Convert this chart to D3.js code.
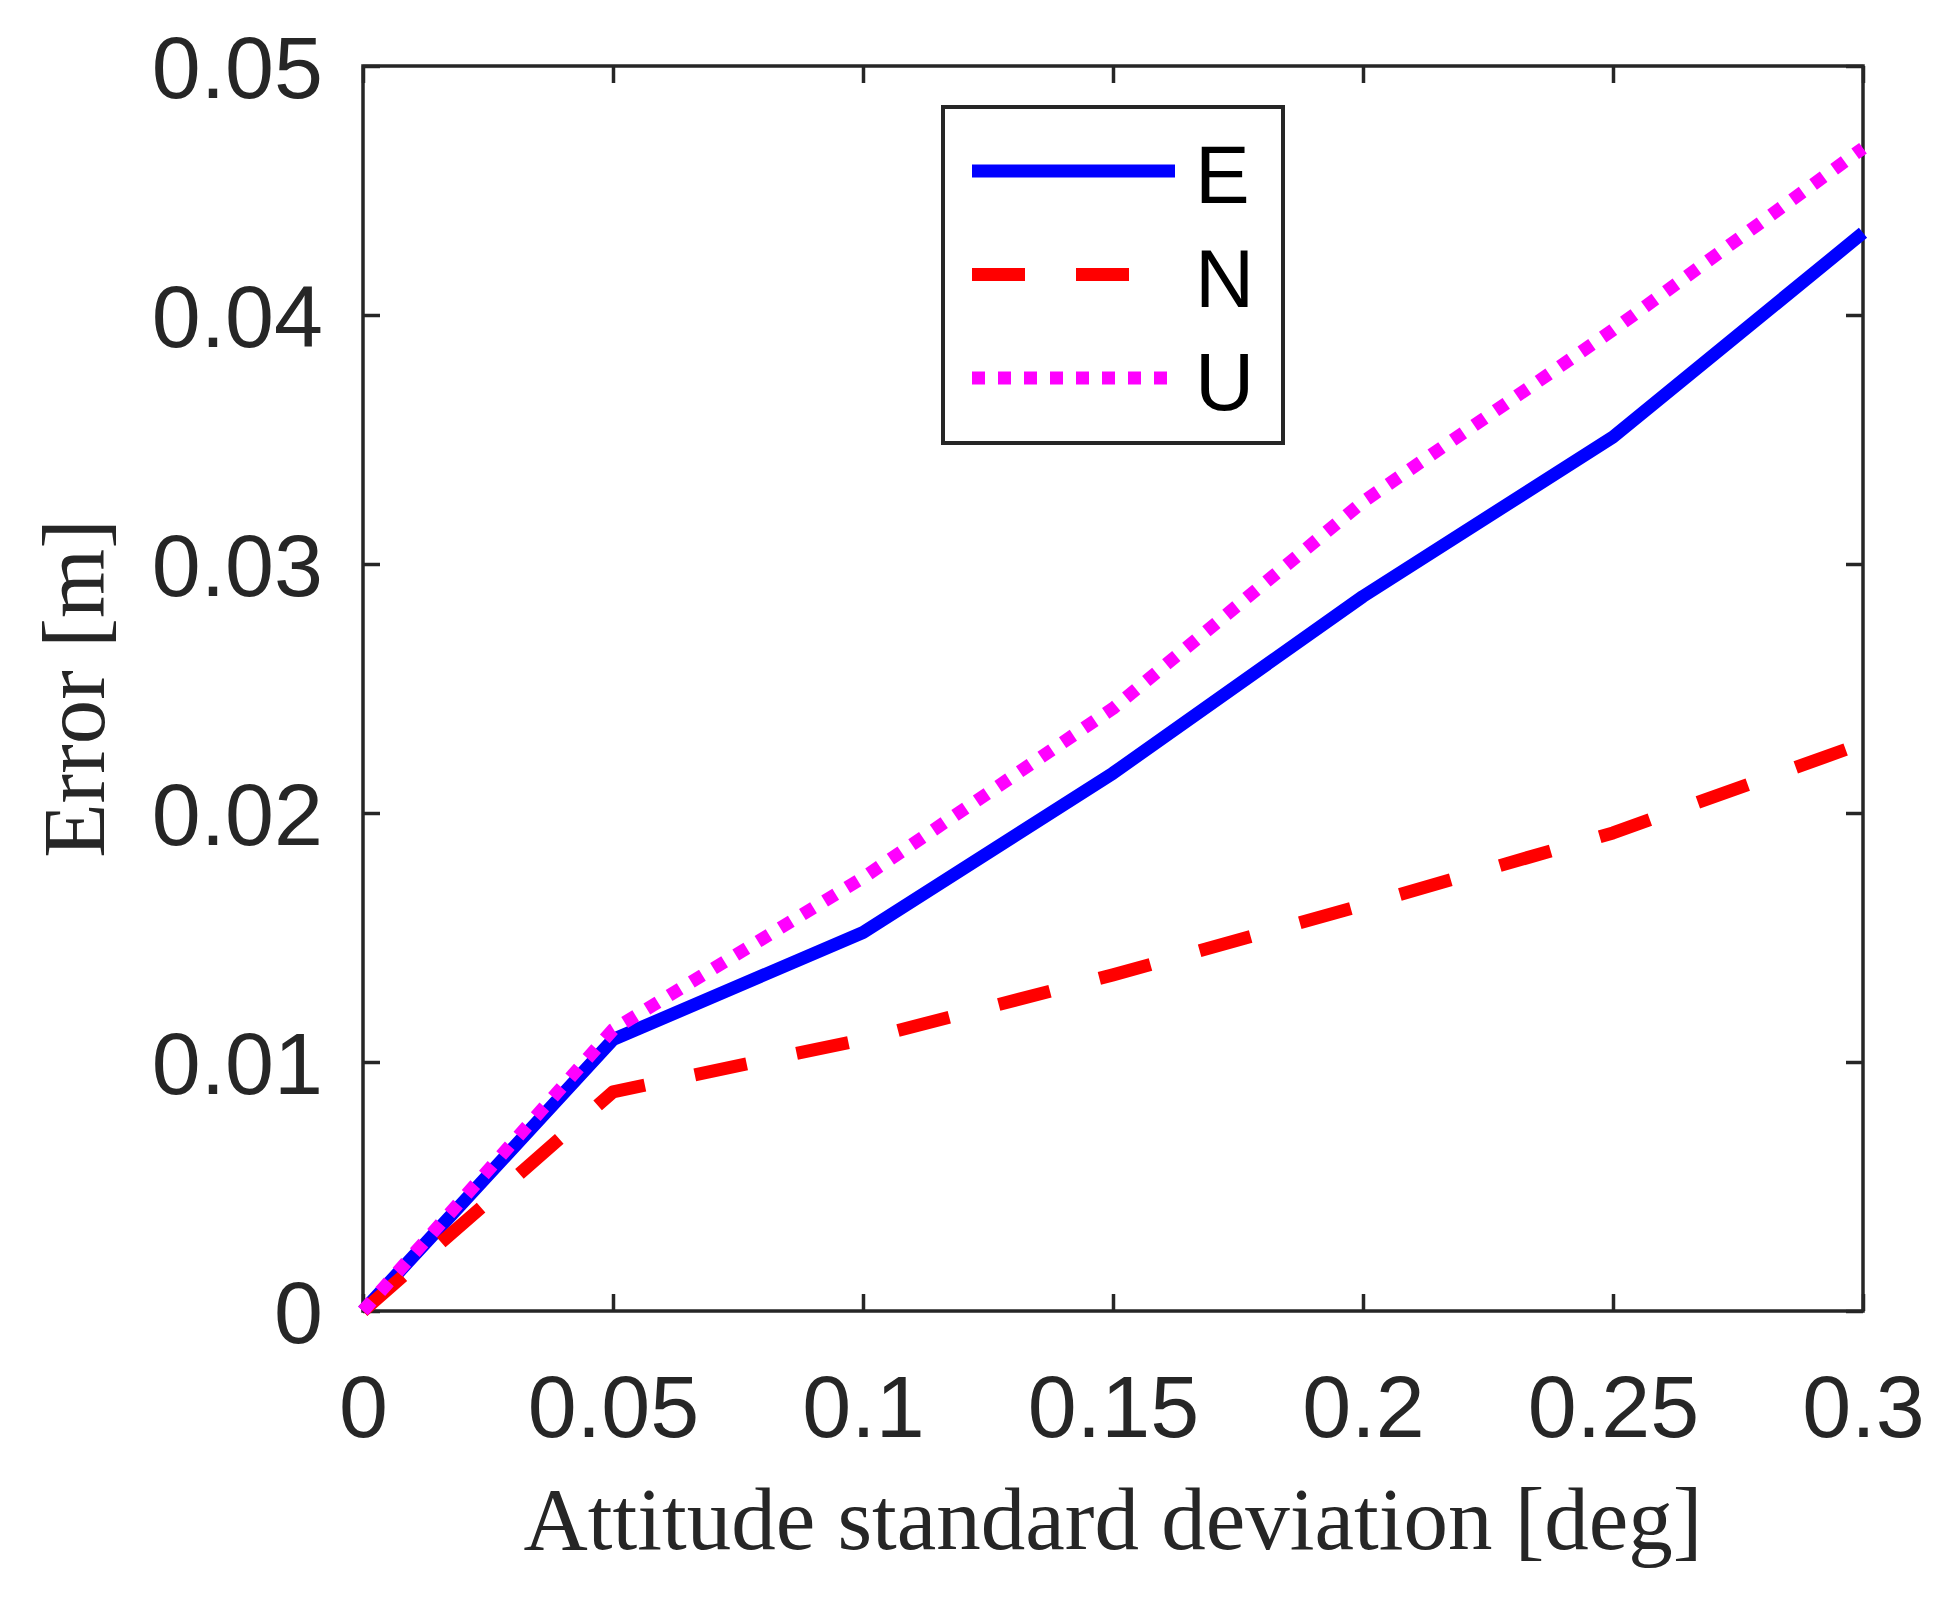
<!DOCTYPE html>
<html>
<head>
<meta charset="utf-8">
<script src="https://cdn.jsdelivr.net/npm/d3@7"></script>
<style>
  body { margin: 0; background: #fff; }
  svg { display: block; }
</style>
</head>
<body>
<div id="chart"></div>
<script>
// data
const attitudeStd = [0, 0.05, 0.1, 0.15, 0.2, 0.25, 0.3];
const errE = [0, 0.0109, 0.0152, 0.0216, 0.0287, 0.0351, 0.0433];
const errN = [0, 0.0088, 0.0109, 0.0135, 0.0163, 0.0192, 0.0228];
const errU = [0, 0.0113, 0.0174, 0.0242, 0.0325, 0.0394, 0.0467];
const xTicks = [0, 0.05, 0.1, 0.15, 0.2, 0.25, 0.3];
const yTicks = [0, 0.01, 0.02, 0.03, 0.04, 0.05];
const seriesNames = ["E", "N", "U"];

(function () {
  const width = 1949, height = 1609;
  // plot box
  const plotLeft = 363, plotRight = 1863, plotTop = 66, plotBottom = 1311;
  const axisColor = "#262626";
  const tickLen = 17;

  const series = [
    { name: seriesNames[0], values: errE, color: "#0000ff", dash: null },
    { name: seriesNames[1], values: errN, color: "#ff0000", dash: "53,51" },
    { name: seriesNames[2], values: errU, color: "#ff00ff", dash: "13,13" }
  ];

  const svg = d3.select("#chart").append("svg")
    .attr("width", width)
    .attr("height", height)
    .style("background", "#fff");

  const x = d3.scaleLinear().domain([0, 0.3]).range([plotLeft, plotRight]);
  const y = d3.scaleLinear().domain([0, 0.05]).range([plotBottom, plotTop]);

  // axes: MATLAB style inward ticks, mirrored on top / right
  const gx = svg.append("g")
    .attr("transform", `translate(0,${plotBottom})`)
    .call(d3.axisBottom(x).tickValues(xTicks).tickFormat(d3.format("~g"))
      .tickSizeInner(-tickLen).tickSizeOuter(0));

  gx.selectAll("text")
    .attr("y", 126)
    .attr("dy", null)
    .style("font-family", "'Liberation Sans', Arial, sans-serif")
    .style("font-size", "88px")
    .attr("fill", axisColor);

  const gy = svg.append("g")
    .attr("transform", `translate(${plotLeft},0)`)
    .call(d3.axisLeft(y).tickValues(yTicks).tickFormat(d3.format("~g"))
      .tickSizeInner(-tickLen).tickSizeOuter(0));

  gy.selectAll("text")
    .attr("x", -40)
    .attr("dy", "0.36em")
    .style("font-family", "'Liberation Sans', Arial, sans-serif")
    .style("font-size", "88px")
    .attr("fill", axisColor);

  svg.append("g")
    .attr("transform", `translate(0,${plotTop})`)
    .call(d3.axisTop(x).tickValues(xTicks).tickFormat("")
      .tickSizeInner(-tickLen).tickSizeOuter(0));

  svg.append("g")
    .attr("transform", `translate(${plotRight},0)`)
    .call(d3.axisRight(y).tickValues(yTicks).tickFormat("")
      .tickSizeInner(-tickLen).tickSizeOuter(0));

  svg.selectAll(".domain").remove();
  svg.selectAll(".tick line")
    .attr("stroke", axisColor)
    .attr("stroke-width", 3.5);

  // frame
  svg.append("rect")
    .attr("x", plotLeft)
    .attr("y", plotTop)
    .attr("width", plotRight - plotLeft)
    .attr("height", plotBottom - plotTop)
    .attr("fill", "none")
    .attr("stroke", axisColor)
    .attr("stroke-width", 3.5);

  // lines
  const line = d3.line()
    .x((d, i) => x(attitudeStd[i]))
    .y(d => y(d));

  svg.append("g")
    .selectAll("path")
    .data(series)
    .join("path")
    .attr("d", d => line(d.values))
    .attr("fill", "none")
    .attr("stroke", d => d.color)
    .attr("stroke-width", 13)
    .attr("stroke-linejoin", "round")
    .attr("stroke-dasharray", d => d.dash);

  // axis labels
  svg.append("text")
    .attr("x", (plotLeft + plotRight) / 2)
    .attr("y", 1549)
    .attr("text-anchor", "middle")
    .style("font-family", "'Liberation Serif', 'Times New Roman', serif")
    .style("font-size", "89px")
    .attr("fill", axisColor)
    .text("Attitude standard deviation [deg]");

  svg.append("text")
    .attr("transform", `translate(104,${(plotTop + plotBottom) / 2}) rotate(-90)`)
    .attr("text-anchor", "middle")
    .style("font-family", "'Liberation Serif', 'Times New Roman', serif")
    .style("font-size", "89px")
    .attr("fill", axisColor)
    .text("Error [m]");

  // legend
  const legend = svg.append("g");
  legend.append("rect")
    .attr("x", 943)
    .attr("y", 107)
    .attr("width", 340)
    .attr("height", 336)
    .attr("fill", "#fff")
    .attr("stroke", axisColor)
    .attr("stroke-width", 4);

  const legendRow = legend.selectAll("g.row")
    .data(series)
    .join("g")
    .attr("class", "row")
    .attr("transform", (d, i) => `translate(0,${171 + i * 103.5})`);

  legendRow.append("line")
    .attr("x1", 972)
    .attr("x2", 1175)
    .attr("stroke", d => d.color)
    .attr("stroke-width", 13)
    .attr("stroke-dasharray", d => d.dash);

  legendRow.append("text")
    .attr("x", 1195)
    .attr("y", 32)
    .style("font-family", "'Liberation Sans', Arial, sans-serif")
    .style("font-size", "82px")
    .attr("fill", "#000")
    .text(d => d.name);
})();
</script>
</body>
</html>
